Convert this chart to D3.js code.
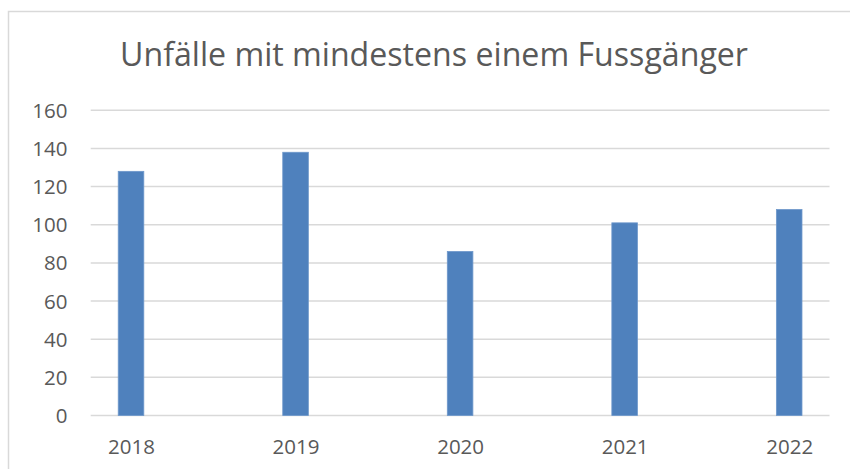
<!DOCTYPE html>
<html>
<head>
<meta charset="utf-8">
<script src="https://cdn.jsdelivr.net/npm/d3@7"></script>
<style>
  html, body { margin: 0; padding: 0; background: #fff; }
  svg { display: block; }
</style>
</head>
<body>
<svg id="chart" width="850" height="469"></svg>
<script>
const title = "Unfälle mit mindestens einem Fussgänger";
const years = ["2018", "2019", "2020", "2021", "2022"];
const values = [128, 138, 86, 101, 108];
const yTicks = [0, 20, 40, 60, 80, 100, 120, 140, 160];

const svg = d3.select("#chart");
const font = "'Open Sans', 'Noto Sans', sans-serif";
const textColor = "#595959";

// chart border
svg.append("rect")
  .attr("x", 8.5).attr("y", 11.5)
  .attr("width", 900).attr("height", 600)
  .attr("fill", "#fff").attr("stroke", "#d9d9d9").attr("stroke-width", 1.5);

const plotLeft = 90.7, plotRight = 829.5;
const y = d3.scaleLinear().domain([0, 160]).range([415.5, 110.3]);
const x = d3.scalePoint().domain(years).range([plotLeft, plotRight]).padding(0.245);
const barW = 25.6;

// gridlines
svg.append("g").selectAll("line").data(yTicks).join("line")
  .attr("x1", plotLeft).attr("x2", plotRight)
  .attr("y1", d => y(d)).attr("y2", d => y(d))
  .attr("stroke", "#d9d9d9").attr("stroke-width", 1.5);

// y axis labels
const yAxis = d3.axisLeft(y).tickValues(yTicks).tickSize(0).tickPadding(0);
const gy = svg.append("g").attr("transform", "translate(67.5,0)").call(yAxis);
gy.select(".domain").remove();
gy.selectAll("text")
  .attr("font-family", font).attr("font-size", 20.5).attr("fill", textColor)
  .attr("dy", "0.34em");

// bars
svg.append("g").selectAll("rect").data(values).join("rect")
  .attr("x", (d, i) => x(years[i]) - barW / 2)
  .attr("width", barW)
  .attr("y", d => y(d))
  .attr("height", d => y(0) - y(d))
  .attr("fill", "#4f81bd")
  .attr("stroke", "#6e98cb").attr("stroke-width", 0.8);

// x axis labels
const xAxis = d3.axisBottom(x).tickSize(0).tickPadding(0);
const gx = svg.append("g").attr("transform", "translate(0,454)").call(xAxis);
gx.select(".domain").remove();
gx.selectAll("text")
  .attr("font-family", font).attr("font-size", 20.5).attr("fill", textColor)
  .attr("dy", 0).attr("y", 0);

// title
svg.append("text")
  .attr("x", 434).attr("y", 66)
  .attr("text-anchor", "middle")
  .attr("font-family", font).attr("font-size", 32).attr("fill", textColor)
  .attr("textLength", 628).attr("lengthAdjust", "spacingAndGlyphs")
  .text(title);
</script>
</body>
</html>
